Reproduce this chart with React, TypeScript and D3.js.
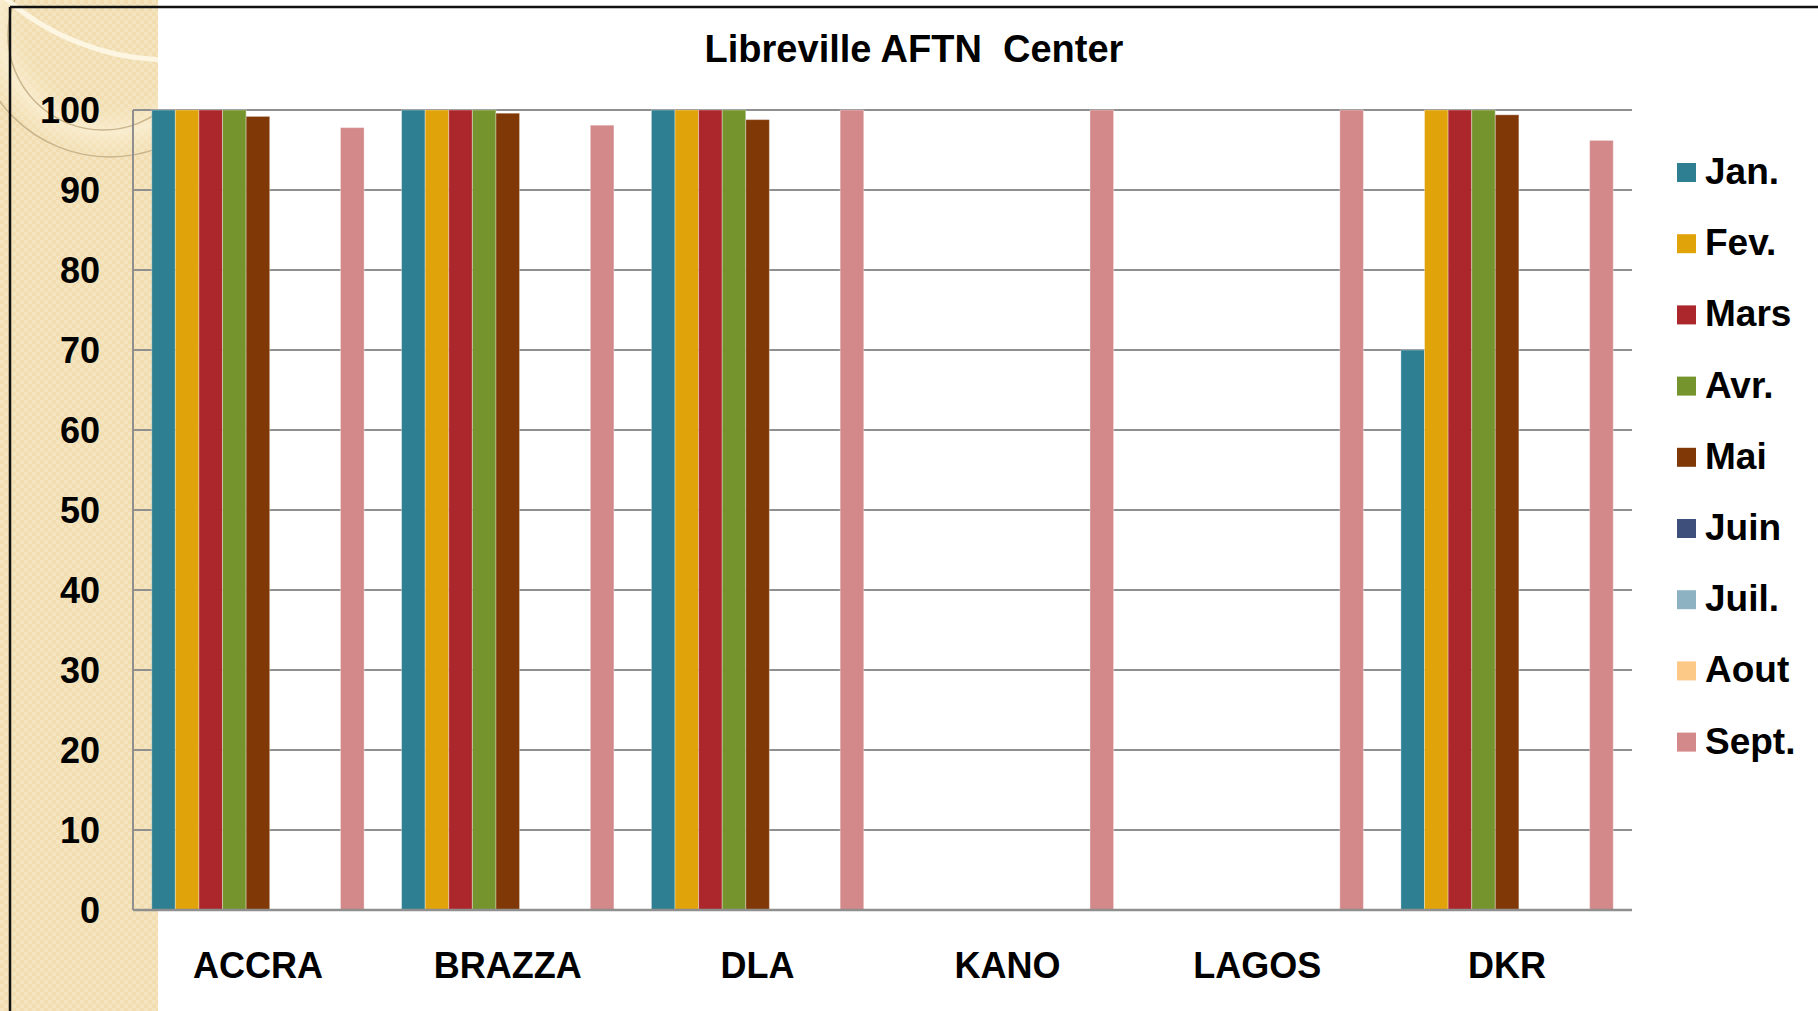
import React from "react";
import * as d3 from "d3";

// data
const centers = ["ACCRA", "BRAZZA", "DLA", "KANO", "LAGOS", "DKR"];
const months = ["Jan.", "Fev.", "Mars", "Avr.", "Mai", "Juin", "Juil.", "Aout", "Sept."];
const colors = ["#2e7f91", "#e0a30a", "#ab272b", "#76942e", "#803806", "#3f4f7c", "#8db3c2", "#fdc987", "#d3888a"];

const jan = [100, 100, 100, 0, 0, 70];
const fev = [100, 100, 100, 0, 0, 100];
const mars = [100, 100, 100, 0, 0, 100];
const avr = [100, 100, 100, 0, 0, 100];
const mai = [99.2, 99.6, 98.8, 0, 0, 99.4];
const juin = [0, 0, 0, 0, 0, 0];
const juil = [0, 0, 0, 0, 0, 0];
const aout = [0, 0, 0, 0, 0, 0];
const sept = [97.8, 98.1, 100, 100, 100, 96.2];

const series = [jan, fev, mars, avr, mai, juin, juil, aout, sept];
const yTicks = [0, 10, 20, 30, 40, 50, 60, 70, 80, 90, 100];

const W = 1818, H = 1011;
const plot = { left: 133, right: 1632, top: 110, bottom: 910 };
const font = "'Liberation Sans', Arial, sans-serif";

export default function App() {
    const x = d3.scaleBand<string>()
        .domain(centers)
        .range([plot.left, plot.right])
        .padding(0);
    const side = 18.75;
    const xSub = d3.scaleBand<string>()
        .domain(months)
        .range([side, x.bandwidth() - side])
        .padding(0);
    const y = d3.scaleLinear().domain([0, 100]).range([plot.bottom, plot.top]);

    return (
        <svg width={W} height={H} style={{ position: "absolute", left: 0, top: 0, background: "#fff" }}>
            <defs>
                <pattern id="check" width="8" height="8" patternUnits="userSpaceOnUse">
                    <rect width="8" height="8" fill="#f1ddb0" />
                    <rect width="4" height="4" fill="#f4e4c0" />
                    <rect x="4" y="4" width="4" height="4" fill="#f4e4c0" />
                </pattern>
                <clipPath id="panel">
                    <rect x="0" y="0" width="158" height={H} />
                </clipPath>
                <radialGradient id="glow" cx="0.5" cy="0.5" r="0.5">
                    <stop offset="0.6" stopColor="#f7e8c4" stopOpacity="0" />
                    <stop offset="0.8" stopColor="#fbf0d4" stopOpacity="0.8" />
                    <stop offset="1" stopColor="#f7e8c4" stopOpacity="0" />
                </radialGradient>
            </defs>

            {/* left decorative panel */}
            <rect x="0" y="0" width="158" height={H} fill="url(#check)" />
            <g clipPath="url(#panel)">
                <circle cx="110" cy="20" r="140" fill="url(#glow)" />
                <circle cx="103" cy="35" r="95" fill="none" stroke="#c9b48c" strokeWidth="1.5" />
                <circle cx="110" cy="20" r="137" fill="none" stroke="#c9b48c" strokeWidth="1.5" />
                <circle cx="170" cy="-190" r="250" fill="none" stroke="#fdf6e3" strokeWidth="5" />
            </g>

            {/* frame lines */}
            <line x1="10" x2={W} y1="7" y2="7" stroke="#111" strokeWidth="2.5" />
            <line x1="10" x2="10" y1="7" y2={H} stroke="#111" strokeWidth="2.5" />

            {/* title */}
            <text x="914" y="62" textAnchor="middle" fontFamily={font} fontWeight="bold" fontSize="38">
                Libreville AFTN{"\u00a0\u00a0"}Center
            </text>

            {/* grid */}
            {yTicks.map(t => (
                <line key={t} x1={plot.left} x2={plot.right} y1={y(t)} y2={y(t)} stroke="#8f8f8f" strokeWidth="2" />
            ))}
            <line x1={plot.left} x2={plot.left} y1={plot.top} y2={plot.bottom} stroke="#8f8f8f" strokeWidth="2" />

            {/* bars */}
            {centers.map((c, ci) => (
                <g key={c} transform={`translate(${x(c)},0)`}>
                    {series.map((s, si) => s[ci] > 0 ? (
                        <rect key={si}
                            x={xSub(months[si])}
                            y={y(s[ci])}
                            width={xSub.bandwidth()}
                            height={plot.bottom - y(s[ci])}
                            fill={colors[si]}
                            stroke="#ffffff" strokeOpacity="0.35" strokeWidth="1" />
                    ) : null)}
                </g>
            ))}
            <line x1={plot.left} x2={plot.right} y1={plot.bottom} y2={plot.bottom} stroke="#8f8f8f" strokeWidth="2.5" />

            {/* y labels */}
            {yTicks.map(t => (
                <text key={t} x="100" y={y(t)} dy="0.36em" textAnchor="end" fontFamily={font} fontWeight="bold" fontSize="36">{t}</text>
            ))}

            {/* x labels */}
            {centers.map(c => (
                <text key={c} x={(x(c) as number) + x.bandwidth() / 2} y="978" textAnchor="middle" fontFamily={font} fontWeight="bold" fontSize="36">{c}</text>
            ))}

            {/* legend */}
            {months.map((m, i) => (
                <g key={m} transform={`translate(1677,${163 + i * 71.2})`}>
                    <rect width="19" height="19" fill={colors[i]} />
                    <text x="28" y="21" fontFamily={font} fontWeight="bold" fontSize="37">{m}</text>
                </g>
            ))}
        </svg>
    );
}
